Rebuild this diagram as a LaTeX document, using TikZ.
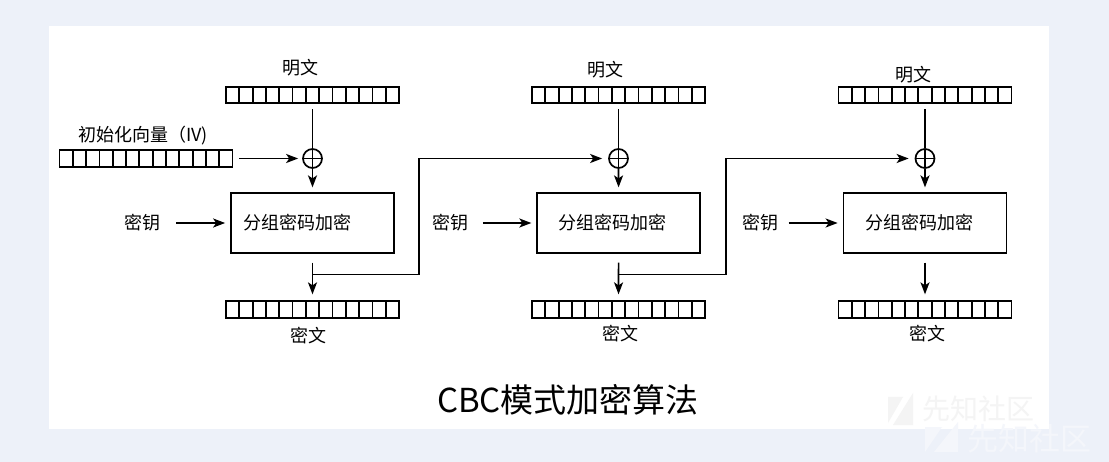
\documentclass[tikz,border=0pt]{standalone}
\usepackage{fontspec}
\setmainfont{Noto Sans CJK SC}
\usetikzlibrary{positioning,arrows.meta}
\definecolor{pagebg}{HTML}{EDF1F9}
\definecolor{markgray}{HTML}{F4F4F4}
\definecolor{markblue}{HTML}{F4F6FB}

\begin{document}
\begin{tikzpicture}[
    x=1pt, y=-1pt,
    node distance=8pt,
    reg/.style={draw, line width=1.8pt, minimum width=173pt, minimum height=16.5pt, inner sep=0pt,
        path picture={\foreach \i in {1,...,12}
            \draw[line width=1.8pt] ([xshift=\i*13.31pt]path picture bounding box.north west)
                -- ([xshift=\i*13.31pt]path picture bounding box.south west);}},
    block/.style={draw, line width=1.7pt, minimum width=163pt, minimum height=59.5pt, inner sep=0pt,
        text width=120pt, align=left, font=\fontsize{18}{20}\selectfont},
    xor/.style={draw, circle, line width=1.7pt, minimum size=19pt, inner sep=0pt,
        path picture={\draw[line width=1.7pt] (path picture bounding box.north) -- (path picture bounding box.south)
            (path picture bounding box.west) -- (path picture bounding box.east);}},
    txt/.style={inner sep=0pt, font=\fontsize{18}{20}\selectfont},
    arrow/.style={line width=1.7pt, -{Stealth[length=12pt,width=9pt,inset=3pt]}},
    line/.style={line width=1.7pt}
]
    % page and panel
    \fill[pagebg] (0,0) rectangle (1109,462);
    \fill[white] (49,26) rectangle (1049,428.5);

    % IV
    \node (iv) [reg] at (146,158.5) {};
    \node (ivl) [txt, above=4pt of iv, xshift=-3pt] {初始化向量（IV)};

    % stage 1
    \node (p1) [reg] at (312.5,95) {};
    \node (m1) [txt, above=10pt of p1, xshift=-12pt] {明文};
    \node (x1) [xor] at (312.5,158.5) {};
    \node (e1) [block, text width=139pt] at (312.5,223) {分组密码加密};
    \node (k1) [txt, left=69pt of e1] {密钥};
    \node (c1) [reg] at (312.5,309.5) {};
    \node (t1) [txt, below=8pt of c1, xshift=-4.5pt] {密文};
    \coordinate (j1) at (312.5,274.5);
    \coordinate (q1) at (419,158.5);

    % stage 2
    \node (p2) [reg] at (618.5,95) {};
    \node (m2) [txt, above=8pt of p2, xshift=-13pt] {明文};
    \node (x2) [xor] at (618.5,158.5) {};
    \node (e2) [block] at (618.7,223) {分组密码加密};
    \node (k2) [txt, left=67.5pt of e2] {密钥};
    \node (c2) [reg] at (618.5,309.5) {};
    \node (t2) [txt, below=6pt of c2, xshift=1.5pt] {密文};
    \coordinate (j2) at (618.5,274.5);
    \coordinate (q2) at (726,158.5);

    % stage 3
    \node (p3) [reg] at (925,95) {};
    \node (m3) [txt, above=3pt of p3, xshift=-12pt] {明文};
    \node (x3) [xor] at (925,158.5) {};
    \node (e3) [block, text width=119pt] at (925,223) {分组密码加密};
    \node (k3) [txt, left=64pt of e3] {密钥};
    \node (c3) [reg] at (925,309.5) {};
    \node (t3) [txt, below=6pt of c3, xshift=2pt] {密文};

    \draw [arrow, shorten <=6pt, shorten >=4pt] (iv) -- (x1);

    \draw [line, shorten <=5pt] (p1) -- (x1);
    \draw [arrow, shorten >=5pt] (x1) -- (e1);
    \draw [arrow, shorten <=15pt, shorten >=5pt] (k1) -- (e1);
    \draw [arrow, shorten <=9pt, shorten >=6pt] (e1) -- (c1);
    \draw [arrow, shorten >=6pt] (j1) -| (q1) -- (x2);

    \draw [line, shorten <=5pt] (p2) -- (x2);
    \draw [arrow, shorten >=5pt] (x2) -- (e2);
    \draw [arrow, shorten <=14pt, shorten >=5pt] (k2) -- (e2);
    \draw [arrow, shorten <=9pt, shorten >=6pt] (e2) -- (c2);
    \draw [arrow, shorten >=6pt] (j2) -| (q2) -- (x3);

    \draw [line, shorten <=5pt] (p3) -- (x3);
    \draw [arrow, shorten >=5pt] (x3) -- (e3);
    \draw [arrow, shorten <=10pt, shorten >=5pt] (k3) -- (e3);
    \draw [arrow, shorten <=9pt, shorten >=6pt] (e3) -- (c3);

    % title
    \node (title) [font=\fontsize{33}{36}\selectfont] at (568,400) {CBC模式加密算法};

    % watermark
    \fill[markgray] (888,397) -- (903,397) -- (888,423) -- cycle;
    \fill[markgray] (913,393) -- (913,425) -- (893,425) -- cycle;
    \node (w1) [inner sep=0pt, text=markgray, font=\fontsize{28}{30}\selectfont] at (978,408.5) {先知社区};
    \fill[markblue] (925,427) -- (942,427) -- (925,452) -- cycle;
    \fill[markblue] (958,422) -- (958,452) -- (934,452) -- cycle;
    \node (w2) [inner sep=0pt, text=markblue, font=\fontsize{31}{33}\selectfont] at (1029,438.5) {先知社区};
\end{tikzpicture}
\end{document}
